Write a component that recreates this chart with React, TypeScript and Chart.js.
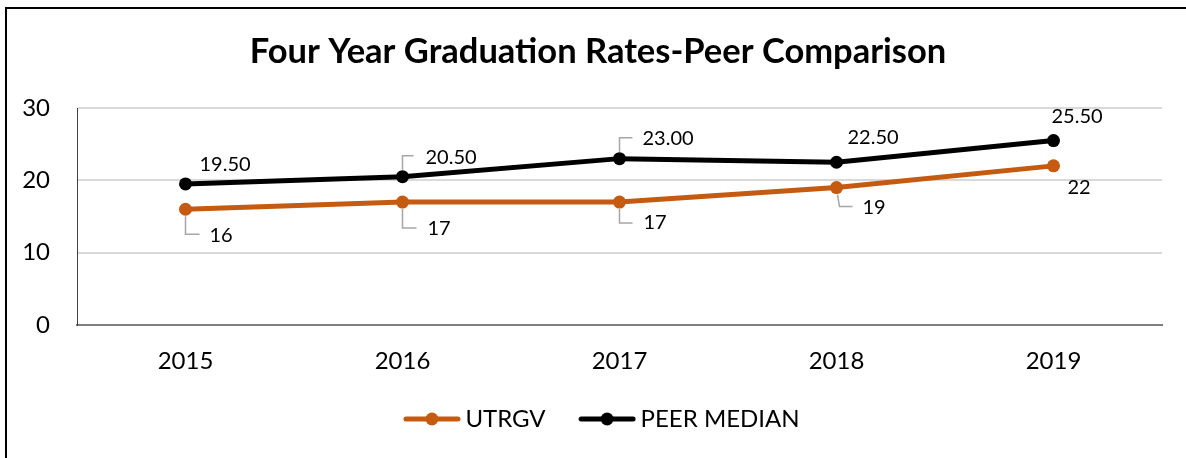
import { useEffect, useRef } from "react";
import { Chart, registerables } from "chart.js";

Chart.register(...registerables);

const years = ["2015", "2016", "2017", "2018", "2019"];
const utrgv = [16, 17, 17, 19, 22];
const peerMedian = [19.5, 20.5, 23, 22.5, 25.5];
const yMin = 0;
const yMax = 30;
const yStep = 10;

const ORANGE = "#C55A11";
const BLACK = "#000000";
const FONT = "Lato";

type Placement = { dx: number; dy: number; leader?: number[][] };

// label placement relative to each point (pixels), per dataset
const utrgvPlacement: Placement[] = [
  { dx: 24, dy: 26, leader: [[0, 7], [0, 25], [14, 25]] },
  { dx: 25, dy: 27, leader: [[0, 7], [0, 26], [14, 26]] },
  { dx: 24, dy: 21, leader: [[0, 7], [0, 21], [13, 21]] },
  { dx: 26, dy: 20, leader: [[1, 7], [3, 19], [16, 19]] },
  { dx: 14, dy: 22 },
];
const peerPlacement: Placement[] = [
  { dx: 14, dy: -19 },
  { dx: 23, dy: -19, leader: [[0, -7], [0, -21], [11, -21]] },
  { dx: 23, dy: -20, leader: [[0, -7], [0, -21], [13, -21]] },
  { dx: 11, dy: -25 },
  { dx: -2, dy: -24 },
];

function makeLegendMarker(color: string): HTMLCanvasElement {
  const t = 14;
  const c = document.createElement("canvas");
  c.width = 58 + t;
  c.height = 16;
  const g = c.getContext("2d")!;
  g.strokeStyle = color;
  g.lineWidth = 5;
  g.lineCap = "round";
  g.beginPath();
  g.moveTo(t + 3, 8);
  g.lineTo(t + 55, 8);
  g.stroke();
  g.fillStyle = color;
  g.beginPath();
  g.arc(t + 29, 8, 6.5, 0, Math.PI * 2);
  g.fill();
  return c;
}

const pointLabelsPlugin = {
  id: "pointLabels",
  afterDatasetsDraw(chart: any, _args: any, opts: any) {
    const ctx: CanvasRenderingContext2D = chart.ctx;
    const placements: Placement[][] = opts.placements || [];
    const formats: ((v: number) => string)[] = opts.formats || [];
    chart.data.datasets.forEach((ds: any, di: number) => {
      const meta = chart.getDatasetMeta(di);
      const pl = placements[di];
      if (!pl) return;
      meta.data.forEach((pt: any, i: number) => {
        const p = pl[i];
        if (!p) return;
        const v = ds.data[i] as number;
        ctx.save();
        if (p.leader) {
          ctx.strokeStyle = "#A6A6A6";
          ctx.lineWidth = 1.5;
          ctx.beginPath();
          p.leader.forEach(([lx, ly], k) => {
            if (k === 0) ctx.moveTo(pt.x + lx, pt.y + ly);
            else ctx.lineTo(pt.x + lx, pt.y + ly);
          });
          ctx.stroke();
        }
        ctx.fillStyle = "#000";
        ctx.font = `20px ${FONT}`;
        ctx.textAlign = "left";
        ctx.textBaseline = "middle";
        ctx.fillText(formats[di] ? formats[di](v) : String(v), pt.x + p.dx, pt.y + p.dy);
        ctx.restore();
      });
    });
  },
};

export default function App() {
  const ref = useRef<HTMLCanvasElement | null>(null);

  useEffect(() => {
    document.body.style.margin = "0";
    const canvas = ref.current!;
    const markers = [makeLegendMarker(ORANGE), makeLegendMarker(BLACK)];
    const chart = new Chart(canvas, {
      type: "line",
      data: {
        labels: years,
        datasets: [
          {
            label: "UTRGV",
            data: utrgv,
            borderColor: ORANGE,
            backgroundColor: ORANGE,
            borderWidth: 5,
            pointRadius: 6.5,
            pointBorderWidth: 0,
            pointBackgroundColor: ORANGE,
            tension: 0,
          },
          {
            label: "PEER MEDIAN",
            data: peerMedian,
            borderColor: BLACK,
            backgroundColor: BLACK,
            borderWidth: 5,
            pointRadius: 6.5,
            pointBorderWidth: 0,
            pointBackgroundColor: BLACK,
            tension: 0,
          },
        ],
      },
      options: {
        responsive: false,
        animation: false,
        layout: { padding: { left: 10, right: 0, top: 0, bottom: 17 } },
        scales: {
          x: {
            offset: true,
            grid: { display: false, drawTicks: false },
            border: { display: true, color: "#7F7F7F", width: 2 },
            ticks: {
              color: "#000",
              padding: 22,
              font: { family: FONT, size: 24 },
            },
            afterFit: (scale: any) => {
              scale.height = 56;
            },
          },
          y: {
            min: yMin,
            max: yMax,
            ticks: {
              stepSize: yStep,
              color: "#000",
              padding: 27,
              font: { family: FONT, size: 24 },
            },
            grid: { color: "#D9D9D9", lineWidth: 2, drawTicks: false },
            border: { display: true, color: "#404040", width: 1 },
            afterFit: (scale: any) => {
              scale.width = 67;
            },
          },
          yRightSpace: {
            position: "right",
            display: true,
            grid: { display: false, drawTicks: false },
            border: { display: false },
            ticks: { display: false },
            afterFit: (scale: any) => {
              scale.width = 24;
            },
          },
        },
        plugins: {
          title: {
            display: true,
            text: "Four Year Graduation Rates-Peer Comparison",
            color: "#000",
            font: { family: FONT, size: 34.5, weight: "bold" },
            padding: { top: 31.3, bottom: 35.3 },
          },
          legend: {
            display: true,
            position: "bottom",
            labels: {
              usePointStyle: true,
              pointStyleWidth: 57,
              boxHeight: 16,
              color: "#000",
              padding: 26,
              font: { family: FONT, size: 24 },
              generateLabels: (c: any) =>
                c.data.datasets.map((ds: any, i: number) => ({
                  text: ds.label,
                  pointStyle: markers[i],
                  fillStyle: ds.borderColor,
                  strokeStyle: ds.borderColor,
                  lineWidth: 0,
                  hidden: false,
                  datasetIndex: i,
                  fontColor: "#000",
                })),
            },
          },
          tooltip: { enabled: false },
          pointLabels: {
            placements: [utrgvPlacement, peerPlacement],
            formats: [(v: number) => String(v), (v: number) => v.toFixed(2)],
          },
        } as any,
      },
      plugins: [pointLabelsPlugin],
    });
    return () => chart.destroy();
  }, []);

  return (
    <div style={{ position: "relative", width: 1186, height: 458, overflow: "hidden", background: "#fff" }}>
      <canvas ref={ref} width={1186} height={458} style={{ display: "block" }} />
      <div
        style={{
          position: "absolute",
          left: 5,
          top: 7,
          right: 0,
          bottom: 0,
          borderLeft: "2px solid #000",
          borderTop: "2px solid #000",
          pointerEvents: "none",
        }}
      />
    </div>
  );
}
